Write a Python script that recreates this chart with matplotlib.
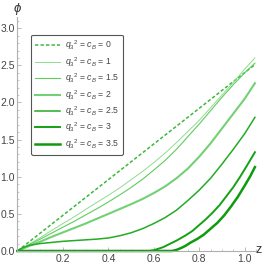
import matplotlib
matplotlib.use("Agg")
import matplotlib.pyplot as plt
from matplotlib.ticker import MultipleLocator

plt.rcParams["font.family"] = ["Liberation Sans", "DejaVu Sans"]
plt.rcParams["mathtext.fontset"] = "custom"
plt.rcParams["mathtext.rm"] = "Liberation Sans"
plt.rcParams["mathtext.it"] = "Liberation Sans:italic"

# values
q_labels = ["0", "1", "1.5", "2", "2.5", "3", "3.5"]

z_q0 = [0.0, 1.045]
phi_q0 = [0.0, 2.51]

z_grid = [0.0, 0.05, 0.1, 0.15, 0.2, 0.25, 0.3, 0.35, 0.4, 0.45, 0.5, 0.55,
          0.6, 0.65, 0.7, 0.75, 0.8, 0.85, 0.9, 0.95, 1.0, 1.045]
phi_q1 = [0.0, 0.09, 0.18, 0.275, 0.37, 0.46, 0.56, 0.655, 0.75, 0.85, 0.96, 1.07,
          1.19, 1.32, 1.46, 1.61, 1.76, 1.93, 2.10, 2.27, 2.45, 2.60]
phi_q15 = [0.0, 0.08, 0.16, 0.24, 0.32, 0.40, 0.485, 0.57, 0.66, 0.755, 0.855, 0.965,
           1.09, 1.22, 1.37, 1.54, 1.71, 1.89, 2.07, 2.24, 2.40, 2.53]
phi_q2 = [0.0, 0.065, 0.125, 0.19, 0.25, 0.31, 0.37, 0.435, 0.50, 0.565, 0.63, 0.70,
          0.78, 0.87, 0.98, 1.11, 1.27, 1.45, 1.65, 1.85, 2.05, 2.26]

z_q25 = [0.0, 0.02, 0.05, 0.1, 0.15, 0.2, 0.25, 0.3, 0.35, 0.4, 0.45, 0.5, 0.55,
         0.6, 0.65, 0.7, 0.75, 0.8, 0.85, 0.9, 0.95, 1.0, 1.045]
phi_q25 = [0.0, 0.04, 0.075, 0.10, 0.115, 0.13, 0.14, 0.15, 0.16, 0.175, 0.205, 0.245,
           0.30, 0.37, 0.45, 0.55, 0.68, 0.82, 0.98, 1.17, 1.37, 1.58, 1.80]

z_q3 = [0.0, 0.58, 0.6, 0.62, 0.64, 0.66, 0.68, 0.70, 0.72, 0.74, 0.77, 0.80, 0.83,
        0.86, 0.89, 0.92, 0.95, 0.98, 1.01, 1.045]
phi_q3 = [0.0, 0.0, 0.01, 0.03, 0.05, 0.08, 0.11, 0.14, 0.175, 0.21, 0.27, 0.35, 0.43,
          0.52, 0.62, 0.74, 0.86, 1.00, 1.15, 1.33]

z_q35 = [0.0, 0.68, 0.70, 0.72, 0.74, 0.76, 0.79, 0.82, 0.85, 0.88, 0.91, 0.94, 0.97,
         1.0, 1.025, 1.045]
phi_q35 = [0.0, 0.0, 0.015, 0.04, 0.07, 0.11, 0.16, 0.22, 0.30, 0.38, 0.48, 0.60, 0.73,
           0.88, 1.01, 1.13]

series = [
    (z_q0, phi_q0, "#3cb83c", 1.1, "--"),
    (z_grid, phi_q1, "#8fdc8f", 0.7, "-"),
    (z_grid, phi_q15, "#5fcc5f", 0.8, "-"),
    (z_grid, phi_q2, "#74d074", 1.5, "-"),
    (z_q25, phi_q25, "#25ab25", 1.1, "-"),
    (z_q3, phi_q3, "#14a214", 1.4, "-"),
    (z_q35, phi_q35, "#0d9c0d", 1.8, "-"),
]

fig = plt.figure(figsize=(2.67, 2.67), dpi=100)
ax = fig.add_axes([0.0655, 0.06, 0.8935, 0.876])

for (zz, pp, col, lw, ls), q in zip(series, q_labels):
    line, = ax.plot(zz, pp, color=col, lw=lw, ls=ls, clip_on=False,
                    solid_joinstyle="round",
                    label=r"$q_3{}^2$ = $c_B$ = " + q)
    if ls == "--":
        line.set_dashes((2.2, 1.4))

ax.set_xlim(0, 1.05)
ax.set_ylim(0, 3.15)
for s in ["top", "right"]:
    ax.spines[s].set_visible(False)
for s in ["left", "bottom"]:
    ax.spines[s].set_color("#b0b0b0")
    ax.spines[s].set_linewidth(0.8)

ax.xaxis.set_major_locator(MultipleLocator(0.2))
ax.xaxis.set_minor_locator(MultipleLocator(0.05))
ax.yaxis.set_major_locator(MultipleLocator(0.5))
ax.yaxis.set_minor_locator(MultipleLocator(0.1))
ax.tick_params(which="both", direction="in", color="#b0b0b0", labelcolor="#444444",
               labelsize=7.5, pad=2)
ax.tick_params(which="major", length=3, width=0.6)
ax.tick_params(which="minor", length=1.5, width=0.5)
ax.set_xticks([0.2, 0.4, 0.6, 0.8, 1.0])
ax.set_xticklabels(["0.2", "0.4", "0.6", "0.8", "1.0"])
ax.set_yticks([0.0, 0.5, 1.0, 1.5, 2.0, 2.5, 3.0])
ax.set_yticklabels(["0.0", "0.5", "1.0", "1.5", "2.0", "2.5", "3.0"])

fig.text(0.064, 0.965, r"$\phi$", fontsize=9.5, color="#333333", ha="center", va="center",
         family="DejaVu Sans")
fig.text(0.968, 0.063, "z", fontsize=9, color="#333333", ha="center", va="center")

leg = ax.legend(loc="upper left", bbox_to_anchor=(0.057, 0.925), fontsize=6.2,
                frameon=True, fancybox=True, edgecolor="#555555", handlelength=2.9,
                handletextpad=0.6, labelspacing=0.32, borderpad=0.45, borderaxespad=0,
                labelcolor="#444444", framealpha=1)
leg.get_frame().set_linewidth(0.8)

fig.savefig("out.png", dpi=100)
